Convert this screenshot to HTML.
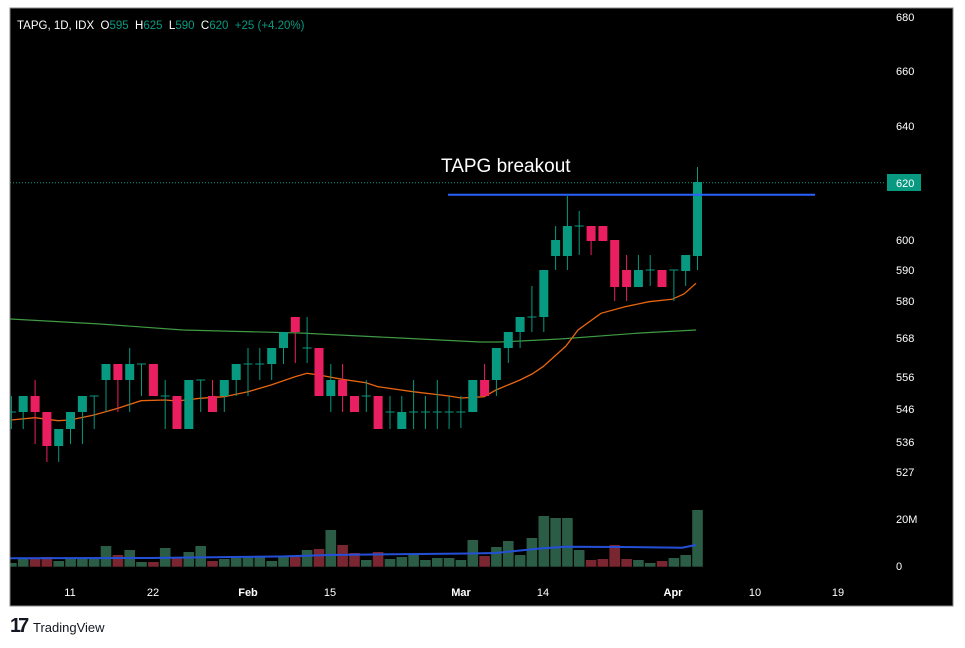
<!DOCTYPE html>
<html><head><meta charset="utf-8"><style>
body{margin:0;background:#fff;width:965px;height:643px;overflow:hidden;font-family:"Liberation Sans",sans-serif}
</style></head><body>
<svg id="s" width="965" height="643" xmlns="http://www.w3.org/2000/svg" font-family="Liberation Sans, sans-serif">
<defs><clipPath id="cp"><rect x="10.5" y="8.5" width="942" height="597"/></clipPath></defs>
<rect x="10" y="8" width="943" height="598" fill="#000" stroke="#888" stroke-width="1"/>
<g id="g" clip-path="url(#cp)"></g>
<text x="17" y="29" font-size="11.5" fill="#fff" style="white-space:pre">TAPG, 1D, IDX  O<tspan fill="#089981">595</tspan>  H<tspan fill="#089981">625</tspan>  L<tspan fill="#089981">590</tspan>  C<tspan fill="#089981">620  +25 (+4.20%)</tspan></text>
<text x="441" y="172" font-size="19" fill="#fff">TAPG breakout</text>
<g font-size="11" fill="#fff">
<text x="896" y="21">680</text><text x="896" y="75">660</text><text x="896" y="130">640</text>
<text x="896" y="244">600</text><text x="896" y="274">590</text><text x="896" y="305">580</text>
<text x="896" y="342">568</text><text x="896" y="381">556</text><text x="896" y="413">546</text>
<text x="896" y="446">536</text><text x="896" y="476">527</text><text x="896" y="523">20M</text>
<text x="896" y="570">0</text>
</g>
<g font-size="11" fill="#fff" text-anchor="middle">
<text x="70" y="596">11</text><text x="153" y="596">22</text><text x="248" y="596" font-weight="bold">Feb</text>
<text x="330" y="596">15</text><text x="461" y="596" font-weight="bold">Mar</text><text x="543" y="596">14</text>
<text x="673" y="596" font-weight="bold">Apr</text><text x="755" y="596">10</text><text x="838" y="596">19</text>
</g>
<text x="10" y="632" font-size="20" font-weight="bold" fill="#131722" letter-spacing="-3">17</text>
<text x="33" y="632" font-size="13" fill="#131722">TradingView</text>
</svg>
<script>
var T="#089981",R="#ea1f62",VG="#2b5c46",VR="#7a2630";
var C=[
['x',412,412,396,429],['u',396,412,396,429],['d',396,412,380,444],['d',412,446,412,462],['u',429,446,429,462],
['u',412,429,412,444],['u',396,412,396,444],['x',396,396,396,429],['u',364,380,364,412],['d',364,380,364,412],
['u',364,380,348,412],['x',364,364,364,396],['d',364,396,364,396],['x',396,396,380,429],['d',396,429,396,429],
['u',380,429,380,429],['x',380,380,380,412],['d',396,412,380,412],['u',380,396,380,412],['u',364,380,364,396],
['x',364,364,348,396],['x',364,364,348,380],['u',348,364,348,380],['u',332,348,332,364],['d',317,332,317,363],
['x',348,348,317,363],['d',348,396,348,396],['u',380,396,364,412],['d',380,396,364,412],['d',396,412,396,412],
['x',396,396,380,412],['d',396,429,396,429],['x',412,412,396,429],['u',412,429,396,429],['x',412,412,380,429],
['x',412,412,396,429],['x',412,412,380,429],['x',412,412,396,429],['x',412,412,396,428],['u',380,412,380,412],
['d',380,396,364,396],['u',348,380,348,396],['u',332,348,332,363],['u',317,332,317,348],['x',317,317,286,332],
['u',270,317,270,332],['u',240,256,226,270],['u',226,256,196,270],['x',226,226,211,255],['d',226,241,226,255],
['d',226,241,226,241],['d',240,287,240,301],['d',270,287,255,301],['u',270,287,255,287],['x',270,270,255,286],
['d',270,287,270,287],['x',270,270,270,301],['u',255,271,255,286],['u',182,256,167,270]];
var V=[563,559,559,557,561,559,559,558,546,555,550,562,562,548,557,552,546,561,559,558,557,557,561,557,557,550,549,530,545,553,560,552,559,557,554,560,558,558,560,540,556,547,541,555,538,516,518,518,550,560,559,545,559,560,563,561,558,555,510];
var VRd={2:1,3:1,9:1,12:1,14:1,17:1,24:1,26:1,28:1,29:1,31:1,40:1,49:1,50:1,51:1,52:1,55:1};
var h='';
function X(i){return 11.4+11.83*i;}
for(var i=0;i<V.length;i++){var x=X(i);h+='<rect x="'+(x-5.3).toFixed(1)+'" y="'+V[i]+'" width="10.6" height="'+(566.7-V[i]).toFixed(1)+'" fill="'+(VRd[i]?VR:VG)+'"/>';}
h+='<polyline fill="none" stroke="#2450d8" stroke-width="2" points="10,558.3 150,558 280,556.5 330,555 420,554 470,553.5 496,553 540,548.5 566,546.7 620,547 682,547.7 696,545"/>';
h+='<polyline fill="none" stroke="#3f9a43" stroke-width="1.2" points="10,319 100,324 183,330 300,333 400,338 480,342 500,342 560,339 640,333 696,330"/>';
h+='<polyline fill="none" stroke="#e8650f" stroke-width="1.3" points="11,420 35,417.7 58,420.7 70,420 94,415 118,408.3 141,400.7 165,400 177,401 200,398.3 224,396.7 248,391.7 271,385 295,376.7 307,373.3 319,375 342,379.3 366,382.7 378,386.7 413,391.7 449,396 461,398 484,396.7 496,390 520,380 532,374 543,366.7 566,346 578,330 601,313.3 625,306.7 649,301.7 672,299.3 684,294 696,283.3"/>';
for(var i=0;i<C.length;i++){var c=C[i],x=X(i),col=(c[0]=='d')?R:T;
h+='<line x1="'+x.toFixed(1)+'" x2="'+x.toFixed(1)+'" y1="'+c[3]+'" y2="'+c[4]+'" stroke="'+col+'" stroke-width="1"/>';
if(c[0]=='x'){h+='<line x1="'+(x-4.5).toFixed(1)+'" x2="'+(x+4.5).toFixed(1)+'" y1="'+c[1]+'" y2="'+c[1]+'" stroke="'+col+'" stroke-width="1"/>';}
else h+='<rect x="'+(x-4.5).toFixed(1)+'" y="'+c[1]+'" width="9" height="'+(c[2]-c[1])+'" fill="'+col+'"/>';}
h+='<line x1="10" x2="886" y1="182.7" y2="182.7" stroke="#089981" stroke-dasharray="1,2"/>';
h+='<line x1="448" x2="815" y1="194.7" y2="194.7" stroke="#2962ff" stroke-width="2"/>';
h+='<rect x="887" y="174" width="34" height="17" fill="#089981"/><text x="896" y="187" font-size="11" fill="#fff">620</text>';
document.getElementById('g').innerHTML=h;
</script>
</body></html>
